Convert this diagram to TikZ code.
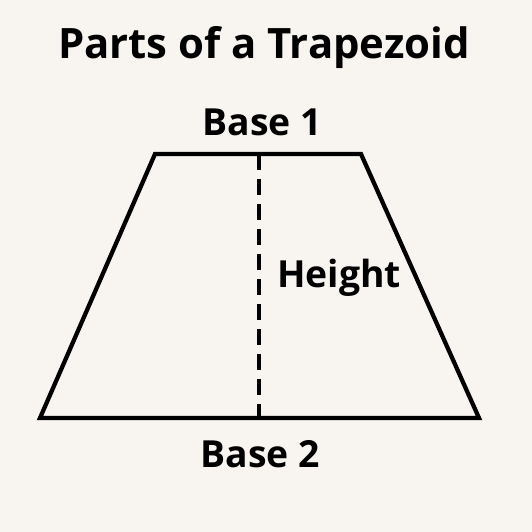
\documentclass[tikz,border=0pt]{standalone}
\usepackage{fontspec}
\setmainfont{Open Sans}
\usepackage{xcolor}
\usetikzlibrary{positioning}
\definecolor{paper}{HTML}{F8F4EF}
\tikzstyle{partname} = [font=\bfseries\fontsize{28}{34}\selectfont, inner sep=0pt, anchor=base]
\tikzstyle{headline} = [font=\bfseries\fontsize{31.4}{38}\selectfont, inner sep=0pt, anchor=base]
\tikzstyle{side} = [line width=3.2pt, line join=miter]
\tikzstyle{heightline} = [line width=3pt, dash pattern=on 12pt off 6.75pt]

\begin{document}
\begin{tikzpicture}[x=0.75pt, y=-0.75pt]
  \fill[paper] (0,0) rectangle (532,532);
  \useasboundingbox (0,0) rectangle (532,532);

  \coordinate (tl) at (155,154);
  \coordinate (tr) at (361,154);
  \coordinate (br) at (479,418);
  \coordinate (bl) at (40,418);
  \coordinate (htop) at (259,154);
  \coordinate (hbot) at (259,418);

  \draw[side] (tl) -- (tr) -- (br) -- (bl) -- cycle;
  \draw[heightline] (htop) -- (hbot);

  \node (title) [headline] at (264,58) {Parts of a Trapezoid};
  \node (base1) [partname] at (262,135) {Base 1};
  \node (height) [partname, anchor=base west] at (277,287) {Height};
  \node (base2) [partname] at (260,467) {Base 2};
\end{tikzpicture}
\end{document}
